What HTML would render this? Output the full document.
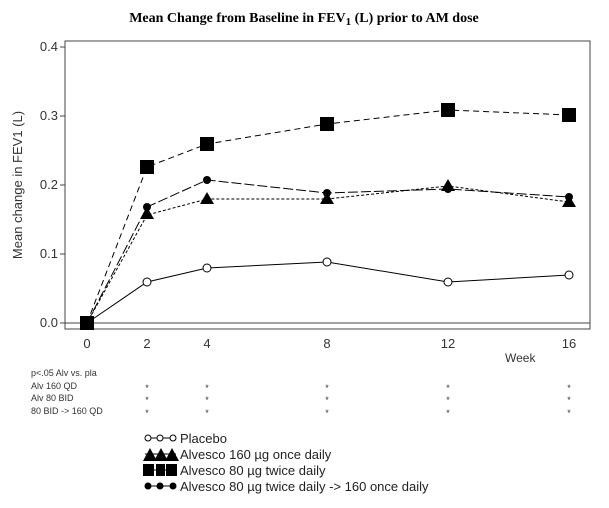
<!DOCTYPE html>
<html><head><style>body{margin:0;background:#fff}</style></head><body>
<svg width="609" height="503" xmlns="http://www.w3.org/2000/svg" font-family="Liberation Sans, sans-serif">
<rect width="609" height="503" fill="#fff"/>
<text x="304" y="22" text-anchor="middle" font-family="Liberation Serif, serif" font-weight="bold" font-size="14">Mean Change from Baseline in FEV<tspan font-size="11" dy="3">1</tspan><tspan dy="-3"> (L) prior to AM dose</tspan></text>
<rect x="65" y="41" width="525" height="288" fill="none" stroke="#444" stroke-width="1"/>
<line x1="65" y1="323" x2="590" y2="323" stroke="#444"/>
<g stroke="#444"><line x1="60" y1="47" x2="65" y2="47"/><line x1="60" y1="116" x2="65" y2="116"/><line x1="60" y1="185" x2="65" y2="185"/><line x1="60" y1="254" x2="65" y2="254"/><line x1="60" y1="323" x2="65" y2="323"/></g>
<g font-size="13" fill="#333" text-anchor="end"><text x="58" y="51">0.4</text><text x="58" y="120">0.3</text><text x="58" y="189">0.2</text><text x="58" y="258">0.1</text><text x="58" y="327">0.0</text></g>
<text transform="translate(22,185) rotate(-90)" text-anchor="middle" font-size="13" fill="#333">Mean change in FEV1 (L)</text>
<g font-size="13" fill="#333" text-anchor="middle"><text x="87" y="348">0</text><text x="147" y="348">2</text><text x="207" y="348">4</text><text x="327" y="348">8</text><text x="448" y="348">12</text><text x="569" y="348">16</text></g>
<text x="505" y="362" font-size="12" fill="#333">Week</text>
<g fill="none" stroke="#000" stroke-width="1">
<polyline points="87,323 147,282 207,268 327,262 448,282 569,275"/>
<polyline stroke-dasharray="3,2" points="87,323 147,215 207,199 327,199 448,186 569,202"/>
<polyline stroke-dasharray="6,4" points="87,323 147,167 207,144 327,124 448,110 569,115"/>
<polyline stroke-dasharray="10,3" points="87,323 147,207 207,180 327,193 448,189 569,197"/>
</g>
<g fill="#fff" stroke="#000"><circle cx="147" cy="282" r="4"/><circle cx="207" cy="268" r="4"/><circle cx="327" cy="262" r="4"/><circle cx="448" cy="282" r="4"/><circle cx="569" cy="275" r="4"/></g>
<g fill="#000">
<polygon points="147,207 140,219 154,219"/><polygon points="207,192 200,204 214,204"/><polygon points="327,192 320,204 334,204"/><polygon points="448,179 441,191 455,191"/><polygon points="569,195 562,207 576,207"/>
<circle cx="147" cy="207" r="4"/><circle cx="207" cy="180" r="4"/><circle cx="327" cy="193" r="4"/><circle cx="448" cy="189" r="4"/><circle cx="569" cy="197" r="4"/>
<rect x="140" y="160" width="14" height="14"/><rect x="200" y="137" width="14" height="14"/><rect x="320" y="117" width="14" height="14"/><rect x="441" y="103" width="14" height="14"/><rect x="562" y="108" width="14" height="14"/>
<rect x="80" y="316" width="14" height="14"/>
</g>
<g font-size="9" fill="#333"><text x="31" y="376">p&lt;.05 Alv vs. pla</text><text x="31" y="389">Alv 160 QD</text><text x="31" y="401">Alv 80 BID</text><text x="31" y="414">80 BID -&gt; 160 QD</text></g>
<g font-size="9" fill="#333" text-anchor="middle">
<text x="147" y="391">*</text><text x="207" y="391">*</text><text x="327" y="391">*</text><text x="448" y="391">*</text><text x="569" y="391">*</text>
<text x="147" y="403">*</text><text x="207" y="403">*</text><text x="327" y="403">*</text><text x="448" y="403">*</text><text x="569" y="403">*</text>
<text x="147" y="416">*</text><text x="207" y="416">*</text><text x="327" y="416">*</text><text x="448" y="416">*</text><text x="569" y="416">*</text>
</g>
<g stroke="#000" fill="none"><line x1="145" y1="438" x2="176" y2="438"/><line x1="145" y1="454" x2="176" y2="454"/><line x1="145" y1="470" x2="176" y2="470"/><line x1="145" y1="486" x2="176" y2="486"/></g>
<g fill="#fff" stroke="#000"><circle cx="148" cy="438" r="3"/><circle cx="160" cy="438" r="3"/><circle cx="173" cy="438" r="3"/></g>
<g fill="#000">
<polygon points="150,448 143,461 157,461"/><polygon points="161,448 154,461 168,461"/><polygon points="172,448 165,461 179,461"/>
<rect x="143" y="464" width="11" height="12"/><rect x="156" y="464" width="9" height="12"/><rect x="166" y="464" width="11" height="12"/>
<circle cx="148" cy="486" r="3.5"/><circle cx="160" cy="486" r="3.5"/><circle cx="173" cy="486" r="3.5"/>
</g>
<g font-size="13" fill="#222"><text x="180" y="443">Placebo</text><text x="180" y="459">Alvesco 160 µg once daily</text><text x="180" y="475">Alvesco 80 µg twice daily</text><text x="180" y="491">Alvesco 80 µg twice daily -&gt; 160 once daily</text></g>
</svg>
</body></html>
